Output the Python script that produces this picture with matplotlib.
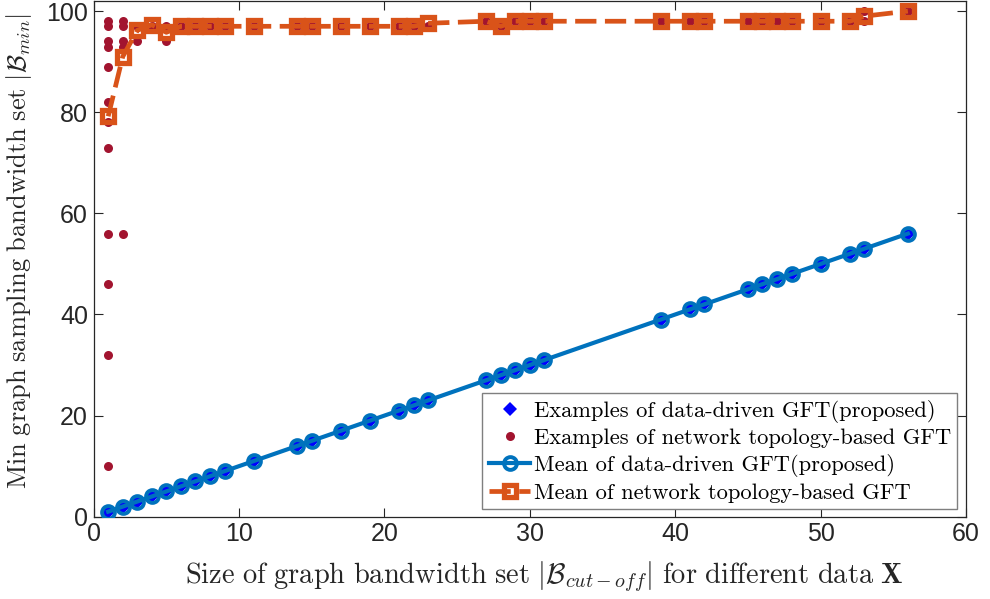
import matplotlib
matplotlib.use("Agg")
import matplotlib.pyplot as plt
from matplotlib.lines import Line2D

plt.rcParams['mathtext.fontset'] = 'cm'
plt.rcParams['font.family'] = ['Liberation Sans', 'DejaVu Sans']

# ---- data ----
sizes = [1, 2, 3, 4, 5, 6, 7, 8, 9, 11, 14, 15, 17, 19, 21, 22, 23,
         27, 28, 29, 30, 31, 39, 41, 42, 45, 46, 47, 48, 50, 52, 53, 56]
data_driven_mean = [1, 2, 3, 4, 5, 6, 7, 8, 9, 11, 14, 15, 17, 19, 21, 22, 23,
                    27, 28, 29, 30, 31, 39, 41, 42, 45, 46, 47, 48, 50, 52, 53, 56]
topology_mean = [79.2, 91, 96.2, 97.3, 95.8, 97, 97, 97, 97, 97, 97, 97, 97, 97, 97, 97, 97.6,
                 98, 97, 98, 98, 98, 98, 98, 98, 98, 98, 98, 98, 98, 98, 99, 100]

# examples (scatter)
dd_ex_x = sizes
dd_ex_y = data_driven_mean
topo_ex_x = ([1] * 12 + [2] * 5 + [3, 3, 4, 5, 5]
             + [6, 7, 8, 9, 11, 14, 15, 17, 19, 21, 22, 23,
                27, 28, 29, 30, 31, 39, 41, 42, 45, 46, 47, 48, 50, 52, 53, 53, 56])
topo_ex_y = ([98, 97, 94, 93, 89, 82, 78, 73, 56, 46, 32, 10]
             + [98, 97, 94, 93, 56] + [97, 94, 97, 97, 94]
             + [97, 97, 97, 97, 97, 97, 97, 97, 97, 97, 97, 97,
                98, 97, 98, 98, 98, 98, 98, 98, 98, 98, 98, 98, 98, 98, 100, 98, 100])

blue = '#0072BD'
orange = '#D95319'
red = '#A2142F'

fig = plt.figure(figsize=(9.9, 5.99), dpi=100)
ax = fig.add_axes([0.0946, 0.1374, 0.9758 - 0.0946, 0.9983 - 0.1374])

ax.plot(dd_ex_x, dd_ex_y, linestyle='none', marker='D', color=(0, 0, 1), markersize=7,
        markeredgewidth=0, zorder=2)
ax.plot(topo_ex_x, topo_ex_y, linestyle='none', marker='o', color=red, markersize=6.5,
        markeredgewidth=0, zorder=2)
ax.plot(sizes, data_driven_mean, '-', color=blue, lw=3.0, marker='o', markersize=9.2,
        markerfacecolor='none', markeredgecolor=blue, markeredgewidth=2.8, zorder=3)
ax.plot(sizes, topology_mean, '--', color=orange, lw=3.4, dashes=(4.5, 1.8), marker='s',
        markersize=9, markerfacecolor='none', markeredgecolor=orange, markeredgewidth=3.8,
        zorder=4)

ax.set_xlim(0, 60)
ax.set_ylim(0, 102)
ax.set_xticks([0, 10, 20, 30, 40, 50, 60])
ax.set_yticks([0, 20, 40, 60, 80, 100])
ax.tick_params(direction='in', length=6.5, width=0.8, top=True, right=True,
               labelsize=18, colors='#262626', pad=4)
for s in ax.spines.values():
    s.set_color('#262626')
    s.set_linewidth(0.9)

ax.set_xlabel(r'$\mathrm{Size\ of\ graph\ bandwidth\ set}\ |\mathcal{B}_{cut-off}|\ \mathrm{for\ different\ data}\ \mathbf{X}$',
              fontsize=20.5, color='#262626')
ax.set_ylabel(r'$\mathrm{Min\ graph\ sampling\ bandwidth\ set}\ |\mathcal{B}_{min}|$',
              fontsize=19, color='#262626')
ax.xaxis.set_label_coords(0.517, -0.082)
ax.yaxis.set_label_coords(-0.068, 0.515)

handles = [
    Line2D([], [], linestyle='none', marker='D', color=(0, 0, 1), markersize=7, markeredgewidth=0),
    Line2D([], [], linestyle='none', marker='o', color=red, markersize=6.5, markeredgewidth=0),
    Line2D([], [], linestyle='-', color=blue, lw=3.0, marker='o', markersize=9.2,
           markerfacecolor='none', markeredgecolor=blue, markeredgewidth=2.8),
    Line2D([], [], linestyle='--', color=orange, lw=3.4, dashes=(4.5, 1.8), marker='s', markersize=9,
           markerfacecolor='none', markeredgecolor=orange, markeredgewidth=3.8),
]
labels = ['Examples of data-driven GFT(proposed)',
          'Examples of network topology-based GFT',
          'Mean of data-driven GFT(proposed)',
          'Mean of network topology-based GFT']
leg = ax.legend(handles, labels, loc='lower right', bbox_to_anchor=(0.99, 0.015),
                borderaxespad=0, prop={'family': 'cmr10', 'size': 16.2},
                fancybox=False, framealpha=1, edgecolor='#7f7f7f',
                handlelength=1.85, handletextpad=0.15, labelspacing=0.26, borderpad=0.28)
leg.get_frame().set_linewidth(1.0)

fig.savefig('out.png', dpi=100)
